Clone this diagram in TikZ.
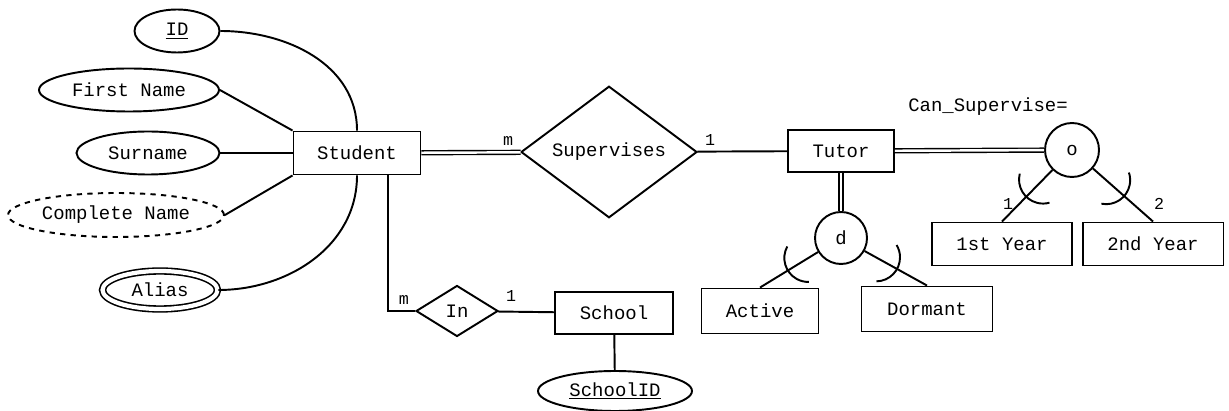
\documentclass[tikz,border=0pt]{standalone}
\usepackage{fontspec}
\setmainfont{Liberation Mono}
\usepackage{tikz}
\usetikzlibrary{shapes.geometric}
\usetikzlibrary{decorations.markings}
\tikzstyle{entity}=[rectangle, draw, line width=1.1pt, inner sep=0pt]
\tikzstyle{attrib}=[ellipse, draw, line width=1.1pt, inner sep=0pt]
\tikzstyle{dattrib}=[attrib, dashed]
\tikzstyle{mattrib}=[attrib, double, line width=0.9pt, double distance=2.4pt]
\tikzstyle{relship}=[diamond, draw, line width=1.1pt, inner sep=0pt]
\tikzstyle{gencirc}=[circle, draw, line width=1.1pt, inner sep=0pt]
\tikzstyle{card}=[inner sep=0pt, font=\fontsize{9.5}{11}\selectfont]
\tikzstyle{link}=[draw, line width=1.1pt]
\tikzstyle{total}=[draw, double, line width=0.8pt, double distance=1.4pt]
\tikzstyle{subset}=[link, postaction={decorate, decoration={markings,
  mark=at position 0.52 with {\draw[line width=1.1pt] (-0.24cm,-0.416cm)
    arc[start angle=-60, end angle=60, radius=0.48cm];}}}]

\begin{document}
\begin{tikzpicture}[x=0.02cm, y=-0.02cm, font=\fontsize{10.8}{13}\selectfont]
\useasboundingbox (0,0) rectangle (1229,411);

% attributes of student
\node[attrib, minimum width=1.70cm, minimum height=0.86cm] at (177,31) (id) {\underline{ID}};
\node[attrib, minimum width=3.60cm, minimum height=0.86cm] at (129,90) (fname) {First Name};
\node[attrib, minimum width=2.86cm, minimum height=0.86cm] at (148,153) (sname) {Surname};
\node[dattrib, minimum width=4.32cm, minimum height=0.88cm] at (116,215) (cname) {Complete Name};
\node[mattrib, minimum width=2.30cm, minimum height=0.76cm] at (160,290) (alias) {Alias};

\node[entity, minimum width=2.54cm, minimum height=0.86cm] at (357,153) (student) {Student};
\node[relship, minimum width=3.52cm, minimum height=2.16cm] at (609,152) (sup) {Supervises};
\node[entity, minimum width=2.12cm, minimum height=0.84cm] at (841,151) (tutor) {Tutor};

\node[gencirc, minimum size=1.08cm] at (1072,150) (ocirc) {o};
\node at (988,107) (canlabel) {Can\_Supervise=};
\node[entity, minimum width=2.80cm, minimum height=0.86cm] at (1002,244) (first) {1st Year};
\node[entity, minimum width=2.82cm, minimum height=0.86cm] at (1153,244) (second) {2nd Year};

\node[gencirc, minimum size=1.04cm] at (841,238) (dcirc) {d};
\node[entity, minimum width=2.34cm, minimum height=0.90cm] at (760,311) (active) {Active};
\node[entity, minimum width=2.62cm, minimum height=0.90cm] at (927,309) (dormant) {Dormant};

\node[relship, minimum width=1.64cm, minimum height=1.02cm] at (457,311) (in) {In};
\node[entity, minimum width=2.36cm, minimum height=0.84cm] at (614,313) (school) {School};
\node[attrib, minimum width=3.08cm, minimum height=0.80cm] at (615,391) (schoolid) {\underline{SchoolID}};

% cardinalities
\node[card] at (508,141) (csm) {m};
\node[card] at (710,140) (cst) {1};
\node[card] at (404,300) (cim) {m};
\node[card] at (511,296) (cis) {1};
\node[card] at (1008,204) (cfirst) {1};
\node[card] at (1159,204) (csecond) {2};

\draw[link] (id.east) to[out=0, in=90] (student.north);
\draw[link] (fname.east) -- (student.north west);
\draw[link] (sname) -- (student);
\draw[link] (cname.east) -- (student.south west);
\draw[link] (alias.east) to[out=0, in=-90] (student.south);

\draw[total] (student) -- (sup);
\draw[link] (sup) -- (tutor);
\draw[link] ([xshift=0.62cm]student.south) |- (in.west);
\draw[link] (in) -- (school);
\draw[link] (school) -- (schoolid);

\draw[total] (tutor) -- (ocirc);
\draw[total] (tutor) -- (dcirc);
\draw[subset] (ocirc) -- (first.north);
\draw[subset] (ocirc) -- (second.north);
\draw[subset] (dcirc) -- (active.north);
\draw[subset] (dcirc) -- (dormant.north);

\end{tikzpicture}
\end{document}
